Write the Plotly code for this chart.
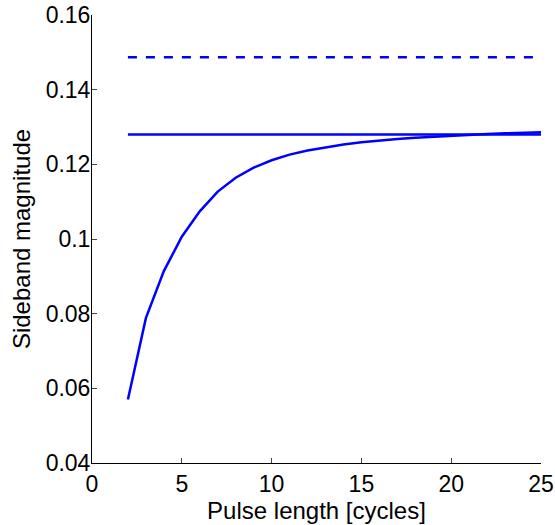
import plotly.graph_objects as go

pulse_length = list(range(2, 26))
sideband = [0.0570, 0.0788, 0.0914, 0.1006, 0.1074, 0.1127, 0.1164, 0.1191,
            0.1211, 0.1226, 0.1237, 0.1246, 0.1253, 0.1259, 0.1264, 0.1268,
            0.1271, 0.1274, 0.1277, 0.1279, 0.1281, 0.1283, 0.1284, 0.1286]
flat_x = [2, 25]
solid_level = [0.1280, 0.1280]
dashed_level = [0.1487, 0.1487]

x_ticks = [0, 5, 10, 15, 20, 25]
y_ticks = [0.04, 0.06, 0.08, 0.1, 0.12, 0.14, 0.16]
y_tick_text = ["0.04", "0.06", "0.08", "0.1", "0.12", "0.14", "0.16"]

blue = "#0000ff"
fig = go.Figure()
fig.add_trace(go.Scatter(x=flat_x, y=dashed_level, mode="lines",
                         line=dict(color=blue, width=2.5, dash="9px,9px")))
fig.add_trace(go.Scatter(x=flat_x, y=solid_level, mode="lines",
                         line=dict(color=blue, width=2.5)))
fig.add_trace(go.Scatter(x=pulse_length, y=sideband, mode="lines",
                         line=dict(color=blue, width=2.5)))

fam = "Liberation Sans, Arial, sans-serif"
tick_font = dict(family=fam, size=23, color="black")
title_font = dict(family=fam, size=24, color="black")
fig.update_layout(
    width=555, height=525,
    margin=dict(l=92, r=14, t=15, b=62),
    plot_bgcolor="white", paper_bgcolor="white",
    showlegend=False,
    font=dict(family=fam, size=20, color="black"),
)
fig.update_xaxes(range=[0, 25], tickvals=x_ticks, ticks="inside", ticklen=5,
                 tickcolor="#444", showline=True, linecolor="black", linewidth=1,
                 showgrid=False, zeroline=False, mirror=False, automargin=False,
                 title=dict(text="Pulse length [cycles]", standoff=0, font=title_font),
                 tickfont=tick_font)
fig.update_yaxes(range=[0.04, 0.16], tickvals=y_ticks, ticktext=y_tick_text,
                 ticks="inside", ticklen=5, tickcolor="#444",
                 showline=True, linecolor="black", linewidth=1,
                 showgrid=False, zeroline=False, mirror=False, automargin=False,
                 ticklabelstandoff=-4,
                 title=dict(text="Sideband magnitude", standoff=8, font=title_font),
                 tickfont=tick_font)

fig.write_html("out.html")
